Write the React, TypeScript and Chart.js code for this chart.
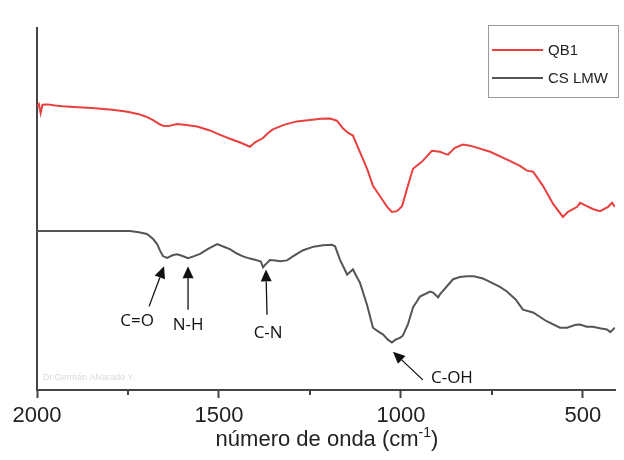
import React, { useEffect, useRef } from "react";
import { Chart, registerables } from "chart.js";

Chart.register(...registerables);

// ---- data (wavenumber in cm^-1, transmittance in arbitrary offset units) ----
const seriesLabels = ["QB1", "CS LMW"];
const seriesColors = ["#e8403f", "#555555"];

const qb1Wavenumbers = [
  2000, 1995, 1990, 1985, 1970, 1950, 1930, 1900, 1850, 1800, 1760, 1745, 1720, 1700, 1680,
  1665, 1654, 1640, 1615, 1590, 1560, 1525, 1500, 1470, 1440, 1415, 1400, 1379, 1365, 1352,
  1320, 1286, 1250, 1220, 1195, 1176, 1159, 1145, 1132, 1113, 1093, 1077, 1058, 1038, 1025,
  1011, 997, 981, 967, 942, 915, 893, 880, 871, 852, 830, 810, 755, 701, 673, 654, 637, 610,
  582, 555, 541, 516, 508, 489, 473, 453, 431, 420, 412,
];
const qb1Values = [
  78.5, 79.0, 76.5, 78.8, 78.9, 78.6, 78.4, 78.2, 77.9, 77.5, 77.0, 76.7, 76.2, 75.5, 74.5,
  73.5, 73.0, 72.9, 73.5, 73.2, 72.8, 71.7, 70.6, 69.4, 68.3, 67.2, 68.5, 69.6, 71.0, 72.0,
  73.3, 74.2, 74.6, 74.9, 75.0, 74.4, 72.2, 71.0, 70.3, 65.8, 61.1, 56.4, 53.6, 50.6, 49.2,
  49.4, 50.8, 56.4, 61.1, 63.1, 66.1, 65.8, 65.3, 65.0, 66.9, 67.8, 67.5, 65.8, 63.3, 61.9,
  60.6, 60.3, 56.4, 51.4, 47.8, 49.2, 50.6, 51.7, 50.8, 50.0, 49.4, 50.6, 51.7, 50.6,
];

const csWavenumbers = [
  2000, 1900, 1800, 1745, 1720, 1698, 1681, 1670, 1662, 1654, 1643, 1626, 1615, 1600, 1585,
  1570, 1552, 1530, 1505, 1485, 1470, 1451, 1434, 1415, 1401, 1385, 1379, 1374, 1360, 1345,
  1332, 1313, 1297, 1269, 1240, 1214, 1190, 1181, 1168, 1148, 1140, 1132, 1118, 1113, 1093,
  1077, 1066, 1049, 1036, 1025, 1015, 1003, 995, 981, 967, 956, 948, 920, 912, 898, 893, 857,
  838, 819, 800, 775, 764, 728, 709, 685, 665, 637, 600, 563, 544, 520, 508, 490, 473, 450,
  434, 425, 412,
];
const csValues = [
  43.9, 43.9, 43.9, 43.9, 43.6, 43.1, 41.7, 40.3, 38.5, 37.0, 36.5, 37.3, 37.5, 37.0, 36.4,
  36.9, 37.6, 39.0, 40.3, 39.5, 38.9, 37.7, 36.9, 36.3, 36.0, 35.5, 33.9, 34.5, 35.9, 35.8,
  35.6, 35.8, 36.9, 38.6, 39.6, 40.0, 40.1, 39.7, 36.1, 31.9, 32.6, 33.3, 30.6, 29.7, 23.4,
  17.2, 16.4, 15.3, 13.9, 13.1, 13.9, 14.4, 15.0, 18.1, 22.8, 24.5, 25.8, 27.2, 26.9, 25.6,
  26.4, 30.6, 31.2, 31.4, 31.4, 30.8, 30.3, 28.5, 27.2, 25.0, 22.2, 21.4, 19.0, 17.2, 17.2,
  18.0, 18.1, 17.5, 17.5, 17.0, 16.7, 16.0, 17.2,
];

const majorTicks = [2000, 1500, 1000, 500];
const minorTicks = [1750, 1250, 750];
const xMin = 412;
const xMax = 2000;

const annotationLabels = ["C=O", "N-H", "C-N", "C-OH"];
const annotationHeadW = [1651, 1585, 1371, 1022];
const annotationHeadV = [34.2, 34.2, 33.3, 10.6];
const annotationTailW = [1692, 1585, 1368, 940];
const annotationTailV = [23.1, 22.2, 20.8, 2.8];
const annotationLabelW = [1725, 1585, 1365, 860];
const annotationLabelV = [18.9, 17.8, 15.8, 3.3];

const axisColor = "#444444";

const overlayPlugin = {
  id: "overlay",
  afterDraw(chart: any) {
    const { ctx, scales } = chart;
    const xs = scales.x;
    const ys = scales.y;
    const axisY = chart.chartArea.bottom;
    ctx.save();

    // minor ticks
    ctx.strokeStyle = axisColor;
    ctx.lineWidth = 2;
    minorTicks.forEach((t) => {
      const px = Math.round(xs.getPixelForValue(t));
      ctx.beginPath();
      ctx.moveTo(px, axisY);
      ctx.lineTo(px, axisY + 5);
      ctx.stroke();
    });

    // axis title with superscript
    ctx.fillStyle = "#222222";
    ctx.textBaseline = "alphabetic";
    const mainFont = "22px 'Liberation Sans', Arial, sans-serif";
    const supFont = "14px 'Liberation Sans', Arial, sans-serif";
    const p1 = "número de onda (cm";
    const sup = "-1";
    const p2 = ")";
    ctx.font = mainFont;
    const w1 = ctx.measureText(p1).width;
    const w3 = ctx.measureText(p2).width;
    ctx.font = supFont;
    const w2 = ctx.measureText(sup).width;
    const total = w1 + w2 + w3;
    const cx = 327;
    let tx = cx - total / 2;
    const baseY = 446;
    ctx.font = mainFont;
    ctx.textAlign = "left";
    ctx.fillText(p1, tx, baseY);
    tx += w1;
    ctx.font = supFont;
    ctx.fillText(sup, tx, baseY - 9);
    tx += w2;
    ctx.font = mainFont;
    ctx.fillText(p2, tx, baseY);

    // legend
    const bx = 488, by = 25, bw = 130, bh = 72;
    ctx.strokeStyle = "#9a9a9a";
    ctx.lineWidth = 1;
    ctx.strokeRect(bx + 0.5, by + 0.5, bw, bh);
    ctx.font = "15px 'Liberation Sans', Arial, sans-serif";
    ctx.textBaseline = "middle";
    chart.data.datasets.forEach((ds: any, i: number) => {
      const ly = by + 25 + i * 28;
      ctx.strokeStyle = ds.borderColor;
      ctx.lineWidth = 2;
      ctx.beginPath();
      ctx.moveTo(bx + 4, ly);
      ctx.lineTo(bx + 55, ly);
      ctx.stroke();
      ctx.fillStyle = "#222222";
      ctx.fillText(ds.label, bx + 60, ly + 1);
    });

    // annotations
    ctx.strokeStyle = "#111111";
    ctx.fillStyle = "#111111";
    ctx.font = "17px 'Open Sans', 'Liberation Sans', sans-serif";
    ctx.textAlign = "center";
    ctx.textBaseline = "middle";
    annotationLabels.forEach((lab, i) => {
      const hx = xs.getPixelForValue(annotationHeadW[i]);
      const hy = ys.getPixelForValue(annotationHeadV[i]);
      const txp = xs.getPixelForValue(annotationTailW[i]);
      const typ = ys.getPixelForValue(annotationTailV[i]);
      const ang = Math.atan2(hy - typ, hx - txp);
      const headLen = 12;
      const headHalf = 5.5;
      const bxp = hx - headLen * Math.cos(ang);
      const byp = hy - headLen * Math.sin(ang);
      ctx.lineWidth = 1.3;
      ctx.beginPath();
      ctx.moveTo(txp, typ);
      ctx.lineTo(bxp, byp);
      ctx.stroke();
      ctx.beginPath();
      ctx.moveTo(hx, hy);
      ctx.lineTo(bxp + headHalf * Math.sin(ang), byp - headHalf * Math.cos(ang));
      ctx.lineTo(bxp - headHalf * Math.sin(ang), byp + headHalf * Math.cos(ang));
      ctx.closePath();
      ctx.fill();
      ctx.fillText(lab, xs.getPixelForValue(annotationLabelW[i]), ys.getPixelForValue(annotationLabelV[i]));
    });

    // watermark
    ctx.fillStyle = "#dadada";
    ctx.font = "9px 'Liberation Sans', Arial, sans-serif";
    ctx.textAlign = "left";
    ctx.fillText("Dr.Germán Alvarado Y.", 43, 378);

    ctx.restore();
  },
};

export default function App() {
  const canvasRef = useRef<HTMLCanvasElement | null>(null);

  useEffect(() => {
    document.body.style.margin = "0";
    const canvas = canvasRef.current;
    if (!canvas) return;
    const toPoints = (ws: number[], vs: number[]) => ws.map((w, i) => ({ x: w, y: vs[i] }));
    const chart = new Chart(canvas, {
      type: "line",
      data: {
        datasets: [
          {
            label: seriesLabels[0],
            data: toPoints(qb1Wavenumbers, qb1Values),
            borderColor: seriesColors[0],
            borderWidth: 2,
            pointRadius: 0,
            tension: 0,
            fill: false,
          },
          {
            label: seriesLabels[1],
            data: toPoints(csWavenumbers, csValues),
            borderColor: seriesColors[1],
            borderWidth: 2,
            pointRadius: 0,
            tension: 0,
            fill: false,
          },
        ],
      },
      options: {
        responsive: false,
        animation: false,
        devicePixelRatio: 1,
        layout: { padding: { left: 37, right: 9, top: 28, bottom: 0 } },
        plugins: {
          legend: { display: false },
          tooltip: { enabled: false },
          title: { display: false },
        },
        scales: {
          x: {
            type: "linear",
            reverse: true,
            min: xMin,
            max: xMax,
            afterBuildTicks: (scale: any) => {
              scale.ticks = majorTicks.map((v) => ({ value: v }));
            },
            afterFit: (scale: any) => {
              scale.height = 70;
            },
            ticks: {
              autoSkip: false,
              maxRotation: 0,
              padding: 5,
              color: "#222222",
              font: { family: "'Liberation Sans', Arial, sans-serif", size: 22 },
              callback: (v: any) => String(v),
            },
            grid: {
              drawOnChartArea: false,
              drawTicks: true,
              tickLength: 8,
              tickWidth: 2,
              tickColor: axisColor,
            },
            border: { display: true, color: axisColor, width: 2 },
          },
          y: {
            type: "linear",
            min: 0,
            max: 100,
            afterFit: (scale: any) => {
              scale.width = 0;
            },
            ticks: { display: false },
            grid: { display: false, drawTicks: false },
            border: { display: true, color: axisColor, width: 2 },
          },
        },
      },
      plugins: [overlayPlugin],
    });
    return () => chart.destroy();
  }, []);

  return (
    <div style={{ width: 624, height: 460, background: "#ffffff" }}>
      <canvas ref={canvasRef} width={624} height={460} style={{ display: "block" }} />
    </div>
  );
}
